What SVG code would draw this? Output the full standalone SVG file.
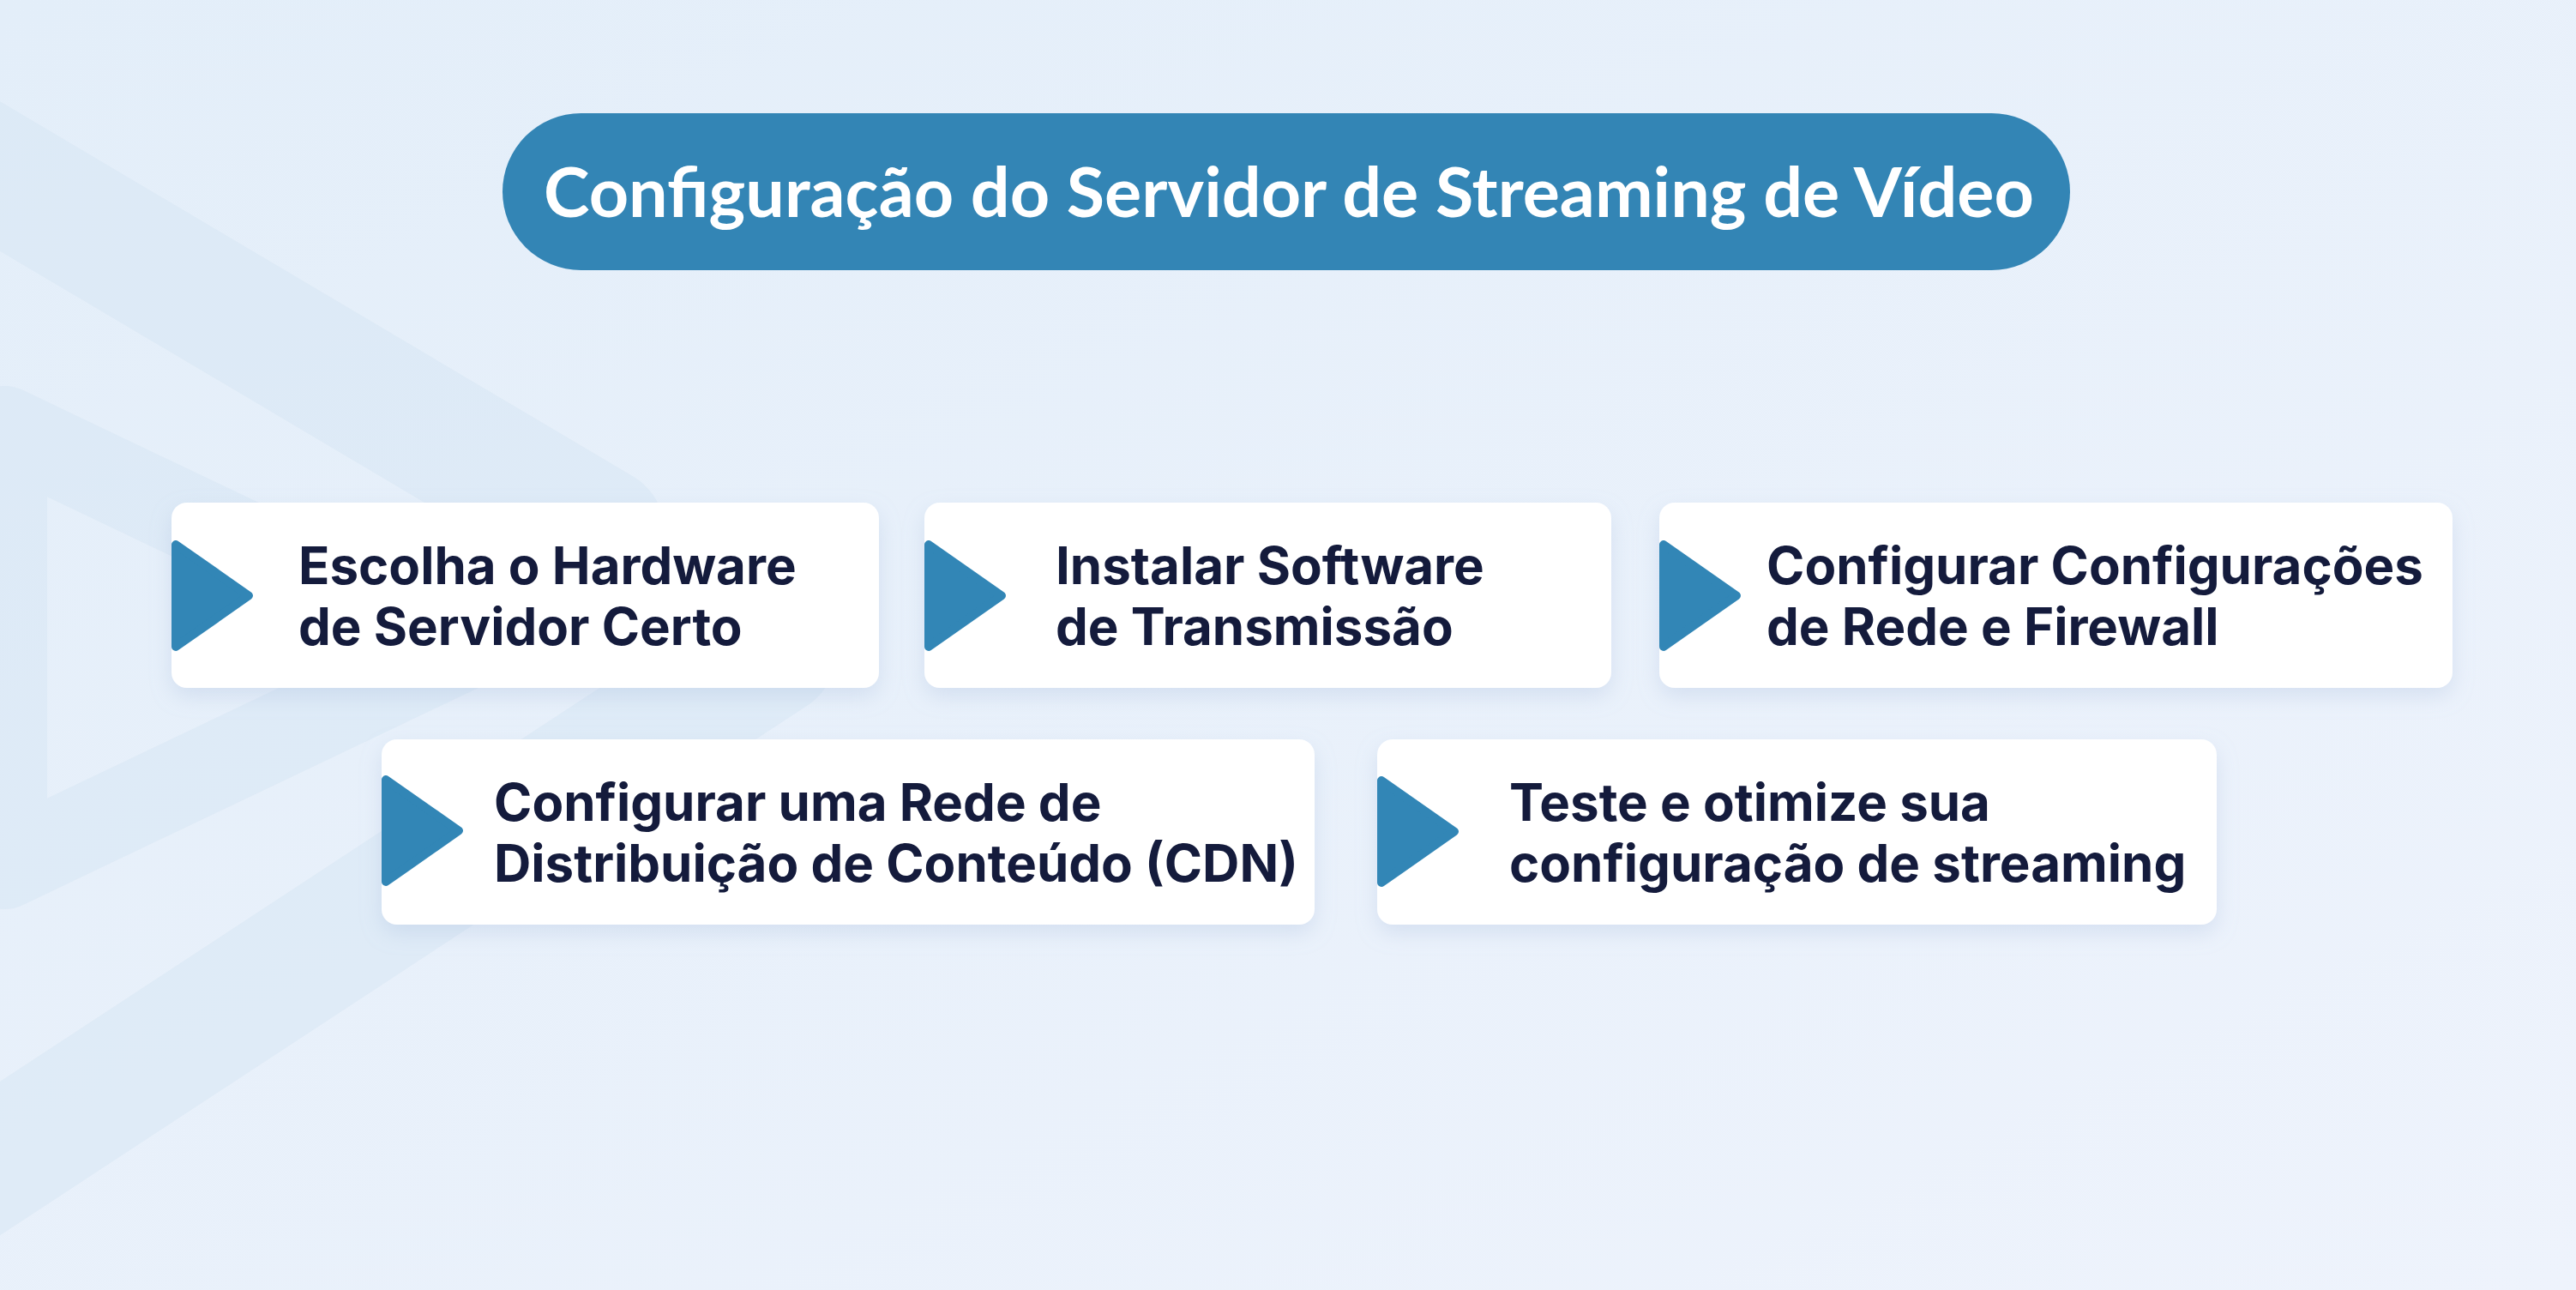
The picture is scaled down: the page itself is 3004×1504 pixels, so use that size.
<svg xmlns="http://www.w3.org/2000/svg" width="3004" height="1504" viewBox="0 0 3004 1504">
<defs>
<linearGradient id="bg" x1="0" y1="0" x2="1" y2="1">
<stop offset="0" stop-color="#E3EEF9"/>
<stop offset="1" stop-color="#EEF3FC"/>
</linearGradient>
<filter id="sh" x="-10%" y="-20%" width="120%" height="150%">
<feDropShadow dx="0" dy="10" stdDeviation="12" flood-color="#9DB2D6" flood-opacity="0.28"/>
</filter>
<path id="tri" d="M5,7 L5,126 L90,66.5 Z"/>
</defs>
<style>
.card{fill:#FFFFFF;filter:url(#sh)}
.tri{fill:#3286B6;stroke:#3286B6;stroke-width:10;stroke-linejoin:round}
.lbl{font-family:Inter,"Liberation Sans",sans-serif;font-weight:700;font-size:60px;fill:#141B3C}
.title{font-family:Lato,"Noto Sans",sans-serif;font-weight:700;font-size:80px;fill:#FFFFFF}
.deco{fill:none;stroke:#D6E6F4;stroke-linejoin:round;stroke-linecap:round;opacity:0.5}
</style>
<rect width="3004" height="1504" fill="url(#bg)"/>
<g id="background">
<path class="deco" d="M-60,170 L700,620" stroke-width="150"/>
<path class="deco" d="M-60,1390 L900,760" stroke-width="150"/>
<path class="deco" d="M5,500 L5,1010 L540,755 Z" stroke-width="100"/>
</g>
<g id="title">
<rect x="586" y="132" width="1828" height="183" rx="91.5" fill="#3385B5"/>
<text class="title" x="1503" y="253" text-anchor="middle" textLength="1738" lengthAdjust="spacingAndGlyphs">Configuração do Servidor de Streaming de Vídeo</text>
</g>
<g id="connectors"></g>
<g id="node1">
<rect class="card" x="200" y="586" width="825" height="216" rx="18"/>
<use href="#tri" class="tri" x="200" y="628"/>
<text class="lbl" x="348" y="681">Escolha o Hardware</text>
<text class="lbl" x="348" y="752">de Servidor Certo</text>
</g>
<g id="node2">
<rect class="card" x="1078" y="586" width="801" height="216" rx="18"/>
<use href="#tri" class="tri" x="1078" y="628"/>
<text class="lbl" x="1231" y="681">Instalar Software</text>
<text class="lbl" x="1231" y="752">de Transmissão</text>
</g>
<g id="node3">
<rect class="card" x="1935" y="586" width="925" height="216" rx="18"/>
<use href="#tri" class="tri" x="1935" y="628"/>
<text class="lbl" x="2060" y="681">Configurar Configurações</text>
<text class="lbl" x="2060" y="752">de Rede e Firewall</text>
</g>
<g id="node4">
<rect class="card" x="445" y="862" width="1088" height="216" rx="18"/>
<use href="#tri" class="tri" x="445" y="902"/>
<text class="lbl" x="576" y="957">Configurar uma Rede de</text>
<text class="lbl" x="576" y="1028">Distribuição de Conteúdo (CDN)</text>
</g>
<g id="node5">
<rect class="card" x="1606" y="862" width="979" height="216" rx="18"/>
<use href="#tri" class="tri" x="1606" y="903"/>
<text class="lbl" x="1760" y="957">Teste e otimize sua</text>
<text class="lbl" x="1760" y="1028">configuração de streaming</text>
</g>
</svg>
